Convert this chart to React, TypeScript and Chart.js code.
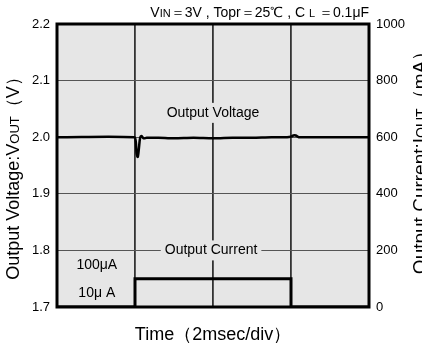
import React, { useEffect, useRef } from "react";
import { Chart, registerables } from "chart.js";

Chart.register(...registerables);

// Time axis in ms (2 ms/div, 4 divisions)
const voltageTime = [0, 1.98, 2.02, 2.04, 2.07, 2.1, 2.13, 2.17, 2.22, 2.3, 2.6, 3.0, 3.5, 4.0, 4.5, 5.0, 5.5, 5.9, 6.0, 6.06, 6.12, 6.2, 6.3, 7.0, 8.0];
const voltageValues = [2.0, 2.0, 1.992, 1.972, 1.965, 1.98, 1.998, 2.002, 1.998, 1.999, 1.999, 1.998, 1.999, 1.998, 1.999, 1.999, 2.0, 2.0, 2.001, 2.003, 2.003, 2.0, 2.0, 2.0, 2.0];
const currentTime = [0, 2, 2, 6, 6, 8];
const currentValues = [0, 0, 100, 100, 0, 0];
const leftTicks = [1.7, 1.8, 1.9, 2.0, 2.1, 2.2];
const rightTicks = [0, 200, 400, 600, 800, 1000];

const FONT = "'Liberation Sans', Arial, sans-serif";

type Part = { t: string; s: number };

function richWidth(ctx: CanvasRenderingContext2D, parts: Part[]) {
  let w = 0;
  for (const p of parts) {
    ctx.font = `${p.s}px ${FONT}`;
    w += ctx.measureText(p.t).width;
  }
  return w;
}

function drawRich(ctx: CanvasRenderingContext2D, parts: Part[], x: number, y: number, align: "left" | "center" | "right") {
  const w = richWidth(ctx, parts);
  let cx = align === "left" ? x : align === "center" ? x - w / 2 : x - w;
  ctx.textAlign = "left";
  ctx.textBaseline = "alphabetic";
  for (const p of parts) {
    ctx.font = `${p.s}px ${FONT}`;
    ctx.fillText(p.t, cx, y);
    cx += ctx.measureText(p.t).width;
  }
}

const deco = {
  id: "deco",
  beforeDraw(chart: any) {
    const { ctx, chartArea: a } = chart;
    ctx.save();
    ctx.fillStyle = "#e6e6e6";
    ctx.fillRect(a.left, a.top, a.right - a.left, a.bottom - a.top);
    ctx.restore();
  },
  afterDatasetsDraw(chart: any) {
    const { ctx, scales } = chart;
    const x = scales.x;
    const y = scales.y;
    ctx.save();
    const boxLabel = (text: string, cx: number, cy: number) => {
      ctx.font = `14px ${FONT}`;
      const w = ctx.measureText(text).width;
      ctx.fillStyle = "#e6e6e6";
      ctx.fillRect(cx - w / 2 - 4, cy - 10, w + 8, 20);
      ctx.fillStyle = "#000";
      ctx.textAlign = "center";
      ctx.textBaseline = "middle";
      ctx.fillText(text, cx, cy);
    };
    boxLabel("Output Voltage", x.getPixelForValue(4), y.getPixelForValue(2.043));
    boxLabel("Output Current", x.getPixelForValue(3.95), y.getPixelForValue(1.8));
    ctx.fillStyle = "#000";
    drawRich(ctx, [{ t: "100", s: 14 }, { t: "μ", s: 14 }, { t: "A", s: 14 }], x.getPixelForValue(1.02), y.getPixelForValue(1.7) - 38, "center");
    drawRich(ctx, [{ t: "10", s: 14 }, { t: "μ ", s: 14 }, { t: "A", s: 14 }], x.getPixelForValue(1.02), y.getPixelForValue(1.7) - 10, "center");
    ctx.restore();
  },
  afterDraw(chart: any) {
    const { ctx, chartArea: a } = chart;
    ctx.save();
    ctx.strokeStyle = "#000";
    ctx.lineWidth = 3;
    ctx.strokeRect(a.left, a.top, a.right - a.left, a.bottom - a.top);
    ctx.fillStyle = "#000";
    // top note
    drawRich(
      ctx,
      [
        { t: "V", s: 14 },
        { t: "IN", s: 11 },
        { t: "＝3V , Topr＝25℃ , C ", s: 14 },
        { t: "L", s: 11 },
        { t: " ＝0.1", s: 14 },
        { t: "μ", s: 14 },
        { t: "F", s: 14 },
      ],
      a.right,
      17,
      "right"
    );
    // x title
    drawRich(ctx, [{ t: "Time（2msec/div）", s: 18 }], (a.left + a.right) / 2, 340, "center");
    // left title
    ctx.save();
    ctx.translate(19, 174);
    ctx.rotate(-Math.PI / 2);
    drawRich(
      ctx,
      [
        { t: "Output Voltage:V", s: 18 },
        { t: "OUT", s: 13 },
        { t: "（V）", s: 18 },
      ],
      0,
      0,
      "center"
    );
    ctx.restore();
    // right title
    ctx.save();
    ctx.translate(426, 158);
    ctx.rotate(-Math.PI / 2);
    drawRich(
      ctx,
      [
        { t: "Output Current:I", s: 19 },
        { t: "OUT", s: 14 },
        { t: "（mA）", s: 19 },
      ],
      0,
      0,
      "center"
    );
    ctx.restore();
    ctx.restore();
  },
};

export default function App() {
  const ref = useRef<HTMLCanvasElement | null>(null);
  useEffect(() => {
    if (!ref.current) return;
    const chart = new Chart(ref.current, {
      type: "line",
      data: {
        datasets: [
          {
            label: "Output Voltage",
            data: voltageTime.map((t, i) => ({ x: t, y: voltageValues[i] })),
            yAxisID: "y",
            borderColor: "#000",
            borderWidth: 2.5,
            pointRadius: 0,
            tension: 0.3,
          },
          {
            label: "Output Current",
            data: currentTime.map((t, i) => ({ x: t, y: currentValues[i] })),
            yAxisID: "y1",
            borderColor: "#000",
            borderWidth: 3,
            pointRadius: 0,
            tension: 0,
          },
        ],
      },
      options: {
        animation: false,
        responsive: false,
        layout: { padding: { top: 24, bottom: 38, left: 0, right: 0 } },
        plugins: { legend: { display: false }, tooltip: { enabled: false } },
        scales: {
          x: {
            type: "linear",
            min: 0,
            max: 8,
            ticks: { display: false, stepSize: 2 },
            grid: { color: "#333", lineWidth: 1.8, drawTicks: false },
            border: { display: false },
          },
          y: {
            position: "left",
            min: 1.7,
            max: 2.2,
            afterFit: (s: any) => {
              s.width = 57;
            },
            afterBuildTicks: (s: any) => {
              s.ticks = leftTicks.map((v) => ({ value: v }));
            },
            ticks: {
              color: "#000",
              padding: 7,
              font: { family: FONT, size: 13 },
              callback: (v: any) => Number(v).toFixed(1),
            },
            grid: { color: "#555", lineWidth: 1, drawTicks: false },
            border: { display: false },
          },
          y1: {
            position: "right",
            min: 0,
            max: 1000,
            afterFit: (s: any) => {
              s.width = 53;
            },
            afterBuildTicks: (s: any) => {
              s.ticks = rightTicks.map((v) => ({ value: v }));
            },
            ticks: {
              color: "#000",
              padding: 7,
              font: { family: FONT, size: 13 },
              callback: (v: any) => String(v),
            },
            grid: { display: false, drawTicks: false },
            border: { display: false },
          },
        },
      },
      plugins: [deco],
    });
    return () => chart.destroy();
  }, []);
  return (
    <div style={{ position: "fixed", left: 0, top: 0, width: 422, height: 345, background: "#fff" }}>
      <canvas ref={ref} width={422} height={345} style={{ display: "block", width: 422, height: 345 }} />
    </div>
  );
}
